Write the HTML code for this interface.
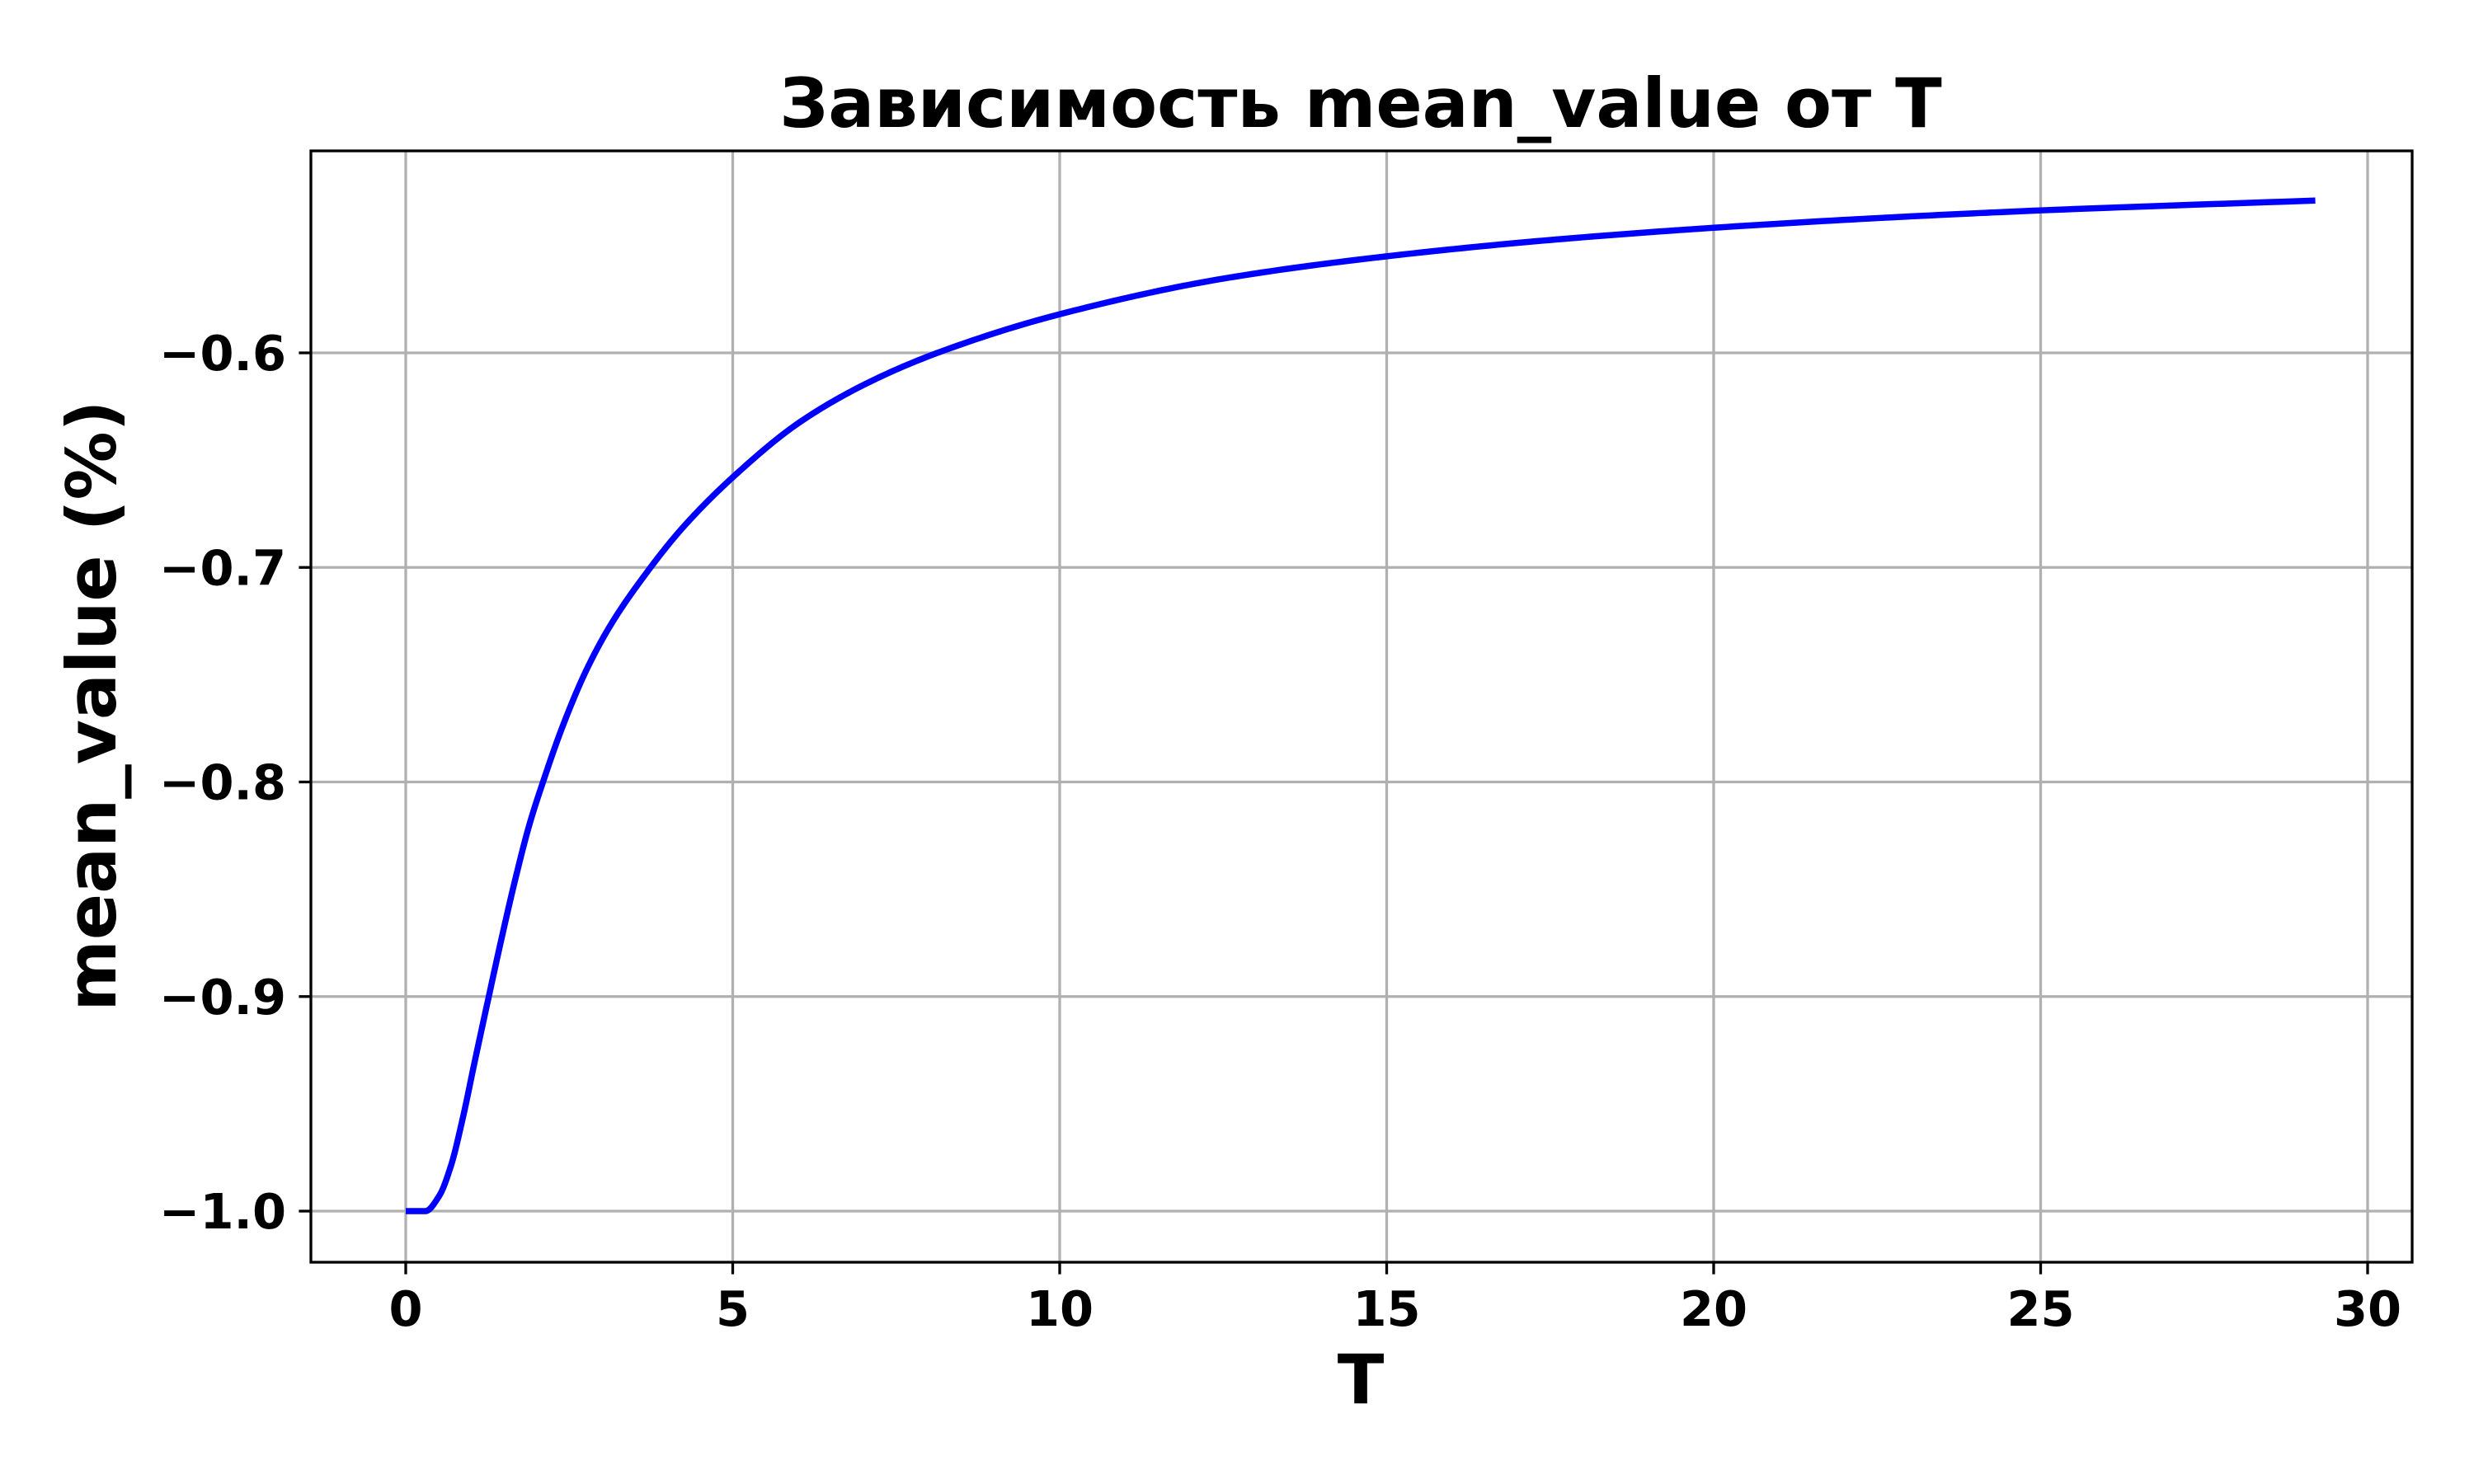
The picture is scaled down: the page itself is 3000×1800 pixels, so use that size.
<!DOCTYPE html>
<html><head><meta charset="utf-8"><style>
html,body{margin:0;padding:0;background:#fff;}
svg{display:block;font-family:"DejaVu Sans","Liberation Sans","Noto Sans CJK SC",sans-serif;font-weight:bold;}
</style></head><body>
<svg id="chart" width="3000" height="1800" viewBox="0 0 3000 1800" xmlns="http://www.w3.org/2000/svg">
<rect x="0" y="0" width="3000" height="1800" fill="#fff"/>
<g id="grid"></g>
<g id="series"></g>
<rect x="377" y="183" width="2548" height="1348" fill="none" stroke="#000" stroke-width="3.3"/>
<g id="ticks"></g>
<text x="1650" y="154" font-size="83" text-anchor="middle">Зависимость mean_value от T</text>
<text x="1650" y="1702" font-size="83" text-anchor="middle">T</text>
<text transform="translate(140,856) rotate(-90)" font-size="83" text-anchor="middle">mean_value (%)</text>
</svg>
<script>
const tValues = [0,0.3,0.51,0.69,0.87,1.05,1.27,1.45,1.67,1.89,2.11,2.4,2.76,3.13,3.67,4.22,5,6.04,7.13,8.22,10,12.5,15,17.5,20,22.5,25,29.2];
const meanValues = [-1,-1,-0.993,-0.979,-0.957,-0.931,-0.9,-0.875,-0.846,-0.82,-0.799,-0.774,-0.748,-0.727,-0.703,-0.682,-0.658,-0.632,-0.613,-0.599,-0.582,-0.5654,-0.555,-0.5474,-0.5417,-0.5372,-0.5336,-0.529];
const xTicks = [0,5,10,15,20,25,30];
const yTicks = [-1.0,-0.9,-0.8,-0.7,-0.6];
const NS = "http://www.w3.org/2000/svg";
const L=377,R=2925,T=183,B=1531;
function xs(v){return 492+(v-0)*(2871-492)/30;}
function ys(v){return 1469+(v+1.0)*(428-1469)/0.4;}
const grid=document.getElementById('grid'), ticks=document.getElementById('ticks'), series=document.getElementById('series');
function mk(tag,attrs,parent){const e=document.createElementNS(NS,tag);for(const k in attrs)e.setAttribute(k,attrs[k]);parent.appendChild(e);return e;}
xTicks.forEach(v=>{
  const x=xs(v);
  const g=mk('line',{x1:x,x2:x,y1:T,y2:B,stroke:'#b0b0b0','stroke-width':3.3},grid);
  
  
  const t=mk('line',{x1:x,x2:x,y1:B,y2:B+14.6,stroke:'#000','stroke-width':3.3},ticks);
  
  
  const l=mk('text',{x:x,y:1608,'font-size':59,'text-anchor':'middle'},ticks);
  l.textContent=String(v);
  
  
});
yTicks.forEach(v=>{
  const y=ys(v);
  const g=mk('line',{x1:L,x2:R,y1:y,y2:y,stroke:'#b0b0b0','stroke-width':3.3},grid);
  
  
  const t=mk('line',{x1:L-14.6,x2:L,y1:y,y2:y,stroke:'#000','stroke-width':3.3},ticks);
  
  
  const l=mk('text',{x:347,y:y+21,'font-size':59,'text-anchor':'end'},ticks);
  l.textContent='\u2212'+Math.abs(v).toFixed(1);
  
  
});
const n=tValues.length, dx=[], sl=[], m=new Array(n);
for(let i=0;i<n-1;i++){dx[i]=tValues[i+1]-tValues[i];sl[i]=(meanValues[i+1]-meanValues[i])/dx[i];}
m[0]=sl[0]; m[n-1]=sl[n-2];
for(let i=1;i<n-1;i++){
  if(sl[i-1]*sl[i]<=0){m[i]=0;}
  else{const w1=2*dx[i]+dx[i-1],w2=dx[i]+2*dx[i-1];m[i]=(w1+w2)/(w1/sl[i-1]+w2/sl[i]);}
}
let d='';
for(let i=0;i<n-1;i++){
  const steps=24;
  for(let k=(i===0?0:1);k<=steps;k++){
    const s=k/steps,h=dx[i];
    const h00=2*s*s*s-3*s*s+1,h10=s*s*s-2*s*s+s,h01=-2*s*s*s+3*s*s,h11=s*s*s-s*s;
    const v=h00*meanValues[i]+h10*h*m[i]+h01*meanValues[i+1]+h11*h*m[i+1];
    const t=tValues[i]+s*h;
    d+=(d?' L':'M')+xs(t).toFixed(2)+','+ys(v).toFixed(2);
  }
}
const line=mk('path',{d:d,fill:'none',stroke:'#0000ff','stroke-width':7.5,'stroke-linejoin':'round'},series);


</script>
</body></html>
